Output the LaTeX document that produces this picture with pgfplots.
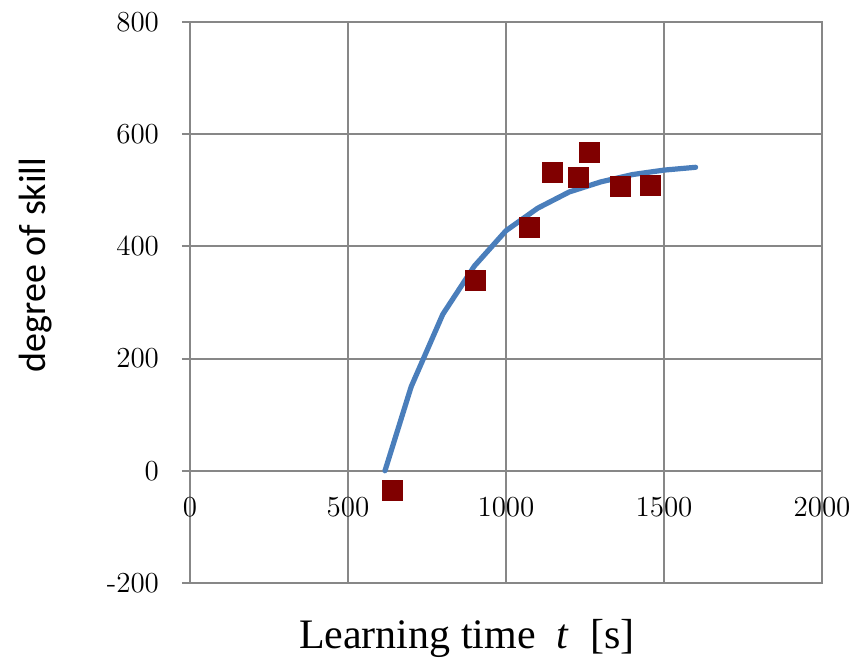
\documentclass[border=0pt]{standalone}
\usepackage{fontspec}
\usepackage{pgfplots}
\pgfplotsset{compat=1.18}
\newfontfamily\labelsans{Carlito}
\newfontfamily\labelserif{Liberation Serif}
\definecolor{fitblue}{HTML}{4A7EBB}
\definecolor{measred}{HTML}{800000}
\definecolor{gridgray}{HTML}{878787}

\begin{document}
\begin{tikzpicture}
\begin{axis}[
  scale only axis, width=316pt, height=280.5pt,
  xmin=0, xmax=2000, ymin=-200, ymax=800,
  xtick={0,500,1000,1500,2000},
  xticklabels={0,500,1000,1500,2000},
  ytick={-200,0,200,400,600,800},
  yticklabels={-200,0,200,400,600,800},
  grid=major, grid style={gridgray, line width=1pt},
  axis line style={gridgray, line width=1pt},
  tick style={gridgray, line width=1pt},
  ytick pos=left, tick align=outside, major tick length=4pt,
  xtick style={draw=none},
  tick label style={font=\fontsize{14.5}{17}\selectfont},
  xticklabel style={yshift=50.5pt},
  yticklabel style={xshift=-8pt},
  xlabel={\labelserif\fontsize{21}{25}\selectfont Learning time\hspace{0.5em}\textit{t}\hspace{0.5em}[s]},
  xlabel style={at={(axis description cs:0.438,-0.116)}, anchor=base},
  ylabel={\labelsans\fontsize{19}{23}\selectfont degree of skill},
  ylabel style={at={(axis description cs:-0.245,0.567)}, anchor=center, rotate=0},
  clip=false,
]
% fitted learning curve
\addplot[fitblue, line width=2.6pt, line join=round, line cap=round] coordinates {
  (617,0) (700,150) (800,279) (900,365) (1000,428) (1100,468)
  (1200,497) (1300,515) (1400,528) (1500,536) (1600,541)
};
% measured skill values
\addplot[only marks, mark=square*, mark size=5pt,
  mark options={fill=measred, draw=measred, line width=0.3pt}] coordinates {
  (639,-34) (902,340) (1073,434) (1146,532) (1228,523)
  (1265,567) (1362,508) (1458,509)
};
\end{axis}
\pgfresetboundingbox
\path (-95pt,-40.5pt) rectangle (333pt,291.5pt);
\end{tikzpicture}
\end{document}
